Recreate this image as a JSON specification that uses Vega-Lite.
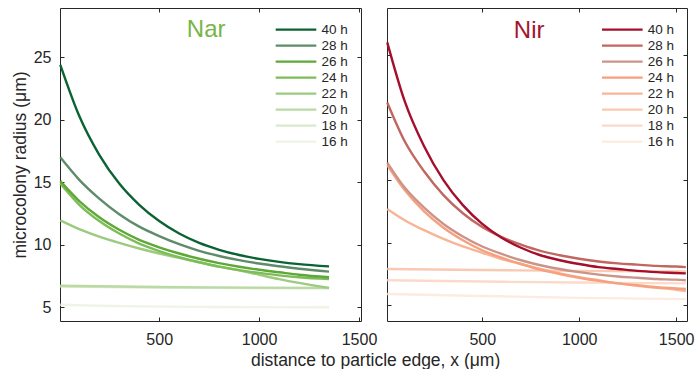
{
  "$schema": "https://vega.github.io/schema/vega-lite/v6.json",
  "padding": {"left": 10, "top": 7, "right": 0, "bottom": 0},
  "bounds": "flush",
  "spacing": 26,
  "config": {
    "font": "Liberation Sans",
    "view": {"stroke": "#262626", "strokeWidth": 1},
    "axis": {"domain": false, "grid": false, "tickSize": -4, "tickColor": "#262626", "tickWidth": 1, "labelFontSize": 16, "labelColor": "#262626", "labelFlush": false, "labelOverlap": false, "titleFontWeight": "normal", "titleFontSize": 17.5, "titleColor": "#262626", "format": "d"},
    "legend": {"orient": "none", "symbolType": "stroke", "symbolSize": 1650, "symbolStrokeWidth": 2.3, "clipHeight": 16, "rowPadding": 0, "padding": 0, "labelFontSize": 13.5, "labelColor": "#262626", "labelOffset": 4}
  },
  "title": {"text": "distance to particle edge, x (μm)", "orient": "bottom", "anchor": "middle", "frame": "bounds", "dx": 23, "fontSize": 17.5, "fontWeight": "normal", "color": "#262626", "offset": 4},
  "datasets": {
    "nar": [
      {"t": "16 h", "x": 5, "r": 5.2}, {"t": "16 h", "x": 200, "r": 5.12}, {"t": "16 h", "x": 400, "r": 5.07}, {"t": "16 h", "x": 700, "r": 5.03}, {"t": "16 h", "x": 1000, "r": 5.01}, {"t": "16 h", "x": 1350, "r": 5.0},
      {"t": "18 h", "x": 5, "r": 6.66}, {"t": "18 h", "x": 500, "r": 6.58}, {"t": "18 h", "x": 1000, "r": 6.53}, {"t": "18 h", "x": 1350, "r": 6.52},
      {"t": "20 h", "x": 5, "r": 6.72}, {"t": "20 h", "x": 500, "r": 6.62}, {"t": "20 h", "x": 1000, "r": 6.57}, {"t": "20 h", "x": 1350, "r": 6.55},
      {"t": "22 h", "x": 5, "r": 11.95}, {"t": "22 h", "x": 100, "r": 11.25}, {"t": "22 h", "x": 200, "r": 10.65}, {"t": "22 h", "x": 300, "r": 10.15}, {"t": "22 h", "x": 400, "r": 9.7}, {"t": "22 h", "x": 500, "r": 9.3}, {"t": "22 h", "x": 600, "r": 8.95}, {"t": "22 h", "x": 700, "r": 8.6}, {"t": "22 h", "x": 800, "r": 8.25}, {"t": "22 h", "x": 900, "r": 7.95}, {"t": "22 h", "x": 1000, "r": 7.6}, {"t": "22 h", "x": 1100, "r": 7.25}, {"t": "22 h", "x": 1200, "r": 6.95}, {"t": "22 h", "x": 1350, "r": 6.55},
      {"t": "24 h", "x": 5, "r": 14.9}, {"t": "24 h", "x": 100, "r": 13.2}, {"t": "24 h", "x": 200, "r": 11.9}, {"t": "24 h", "x": 300, "r": 10.9}, {"t": "24 h", "x": 400, "r": 10.1}, {"t": "24 h", "x": 500, "r": 9.5}, {"t": "24 h", "x": 600, "r": 9.0}, {"t": "24 h", "x": 700, "r": 8.6}, {"t": "24 h", "x": 800, "r": 8.25}, {"t": "24 h", "x": 900, "r": 7.97}, {"t": "24 h", "x": 1000, "r": 7.75}, {"t": "24 h", "x": 1100, "r": 7.55}, {"t": "24 h", "x": 1200, "r": 7.4}, {"t": "24 h", "x": 1350, "r": 7.25},
      {"t": "26 h", "x": 5, "r": 15.1}, {"t": "26 h", "x": 100, "r": 13.5}, {"t": "26 h", "x": 200, "r": 12.2}, {"t": "26 h", "x": 300, "r": 11.2}, {"t": "26 h", "x": 400, "r": 10.4}, {"t": "26 h", "x": 500, "r": 9.8}, {"t": "26 h", "x": 600, "r": 9.3}, {"t": "26 h", "x": 700, "r": 8.88}, {"t": "26 h", "x": 800, "r": 8.53}, {"t": "26 h", "x": 900, "r": 8.24}, {"t": "26 h", "x": 1000, "r": 8.0}, {"t": "26 h", "x": 1100, "r": 7.8}, {"t": "26 h", "x": 1200, "r": 7.6}, {"t": "26 h", "x": 1350, "r": 7.4},
      {"t": "28 h", "x": 5, "r": 17.0}, {"t": "28 h", "x": 100, "r": 15.2}, {"t": "28 h", "x": 200, "r": 13.7}, {"t": "28 h", "x": 300, "r": 12.45}, {"t": "28 h", "x": 400, "r": 11.45}, {"t": "28 h", "x": 500, "r": 10.7}, {"t": "28 h", "x": 600, "r": 10.05}, {"t": "28 h", "x": 700, "r": 9.52}, {"t": "28 h", "x": 800, "r": 9.1}, {"t": "28 h", "x": 900, "r": 8.77}, {"t": "28 h", "x": 1000, "r": 8.5}, {"t": "28 h", "x": 1100, "r": 8.28}, {"t": "28 h", "x": 1200, "r": 8.08}, {"t": "28 h", "x": 1350, "r": 7.85},
      {"t": "40 h", "x": 5, "r": 24.4}, {"t": "40 h", "x": 100, "r": 20.3}, {"t": "40 h", "x": 200, "r": 17.2}, {"t": "40 h", "x": 300, "r": 14.9}, {"t": "40 h", "x": 400, "r": 13.2}, {"t": "40 h", "x": 500, "r": 11.9}, {"t": "40 h", "x": 600, "r": 10.9}, {"t": "40 h", "x": 700, "r": 10.15}, {"t": "40 h", "x": 800, "r": 9.6}, {"t": "40 h", "x": 900, "r": 9.18}, {"t": "40 h", "x": 1000, "r": 8.87}, {"t": "40 h", "x": 1100, "r": 8.63}, {"t": "40 h", "x": 1200, "r": 8.45}, {"t": "40 h", "x": 1350, "r": 8.27}
    ],
    "nir": [
      {"t": "16 h", "x": 10, "r": 5.9}, {"t": "16 h", "x": 500, "r": 5.75}, {"t": "16 h", "x": 1000, "r": 5.6}, {"t": "16 h", "x": 1550, "r": 5.5},
      {"t": "18 h", "x": 10, "r": 7.0}, {"t": "18 h", "x": 500, "r": 6.9}, {"t": "18 h", "x": 1000, "r": 6.82}, {"t": "18 h", "x": 1550, "r": 6.75},
      {"t": "20 h", "x": 10, "r": 7.9}, {"t": "20 h", "x": 500, "r": 7.82}, {"t": "20 h", "x": 1000, "r": 7.75}, {"t": "20 h", "x": 1550, "r": 7.7},
      {"t": "22 h", "x": 10, "r": 12.7}, {"t": "22 h", "x": 100, "r": 11.8}, {"t": "22 h", "x": 200, "r": 11.0}, {"t": "22 h", "x": 300, "r": 10.3}, {"t": "22 h", "x": 400, "r": 9.7}, {"t": "22 h", "x": 500, "r": 9.2}, {"t": "22 h", "x": 600, "r": 8.7}, {"t": "22 h", "x": 700, "r": 8.3}, {"t": "22 h", "x": 800, "r": 7.9}, {"t": "22 h", "x": 900, "r": 7.55}, {"t": "22 h", "x": 1000, "r": 7.25}, {"t": "22 h", "x": 1100, "r": 7.0}, {"t": "22 h", "x": 1200, "r": 6.75}, {"t": "22 h", "x": 1300, "r": 6.55}, {"t": "22 h", "x": 1400, "r": 6.4}, {"t": "22 h", "x": 1500, "r": 6.25}, {"t": "22 h", "x": 1550, "r": 6.15},
      {"t": "24 h", "x": 10, "r": 16.2}, {"t": "24 h", "x": 100, "r": 14.2}, {"t": "24 h", "x": 200, "r": 12.5}, {"t": "24 h", "x": 300, "r": 11.2}, {"t": "24 h", "x": 400, "r": 10.2}, {"t": "24 h", "x": 500, "r": 9.4}, {"t": "24 h", "x": 600, "r": 8.8}, {"t": "24 h", "x": 700, "r": 8.3}, {"t": "24 h", "x": 800, "r": 7.85}, {"t": "24 h", "x": 900, "r": 7.5}, {"t": "24 h", "x": 1000, "r": 7.2}, {"t": "24 h", "x": 1100, "r": 6.95}, {"t": "24 h", "x": 1200, "r": 6.75}, {"t": "24 h", "x": 1300, "r": 6.6}, {"t": "24 h", "x": 1400, "r": 6.45}, {"t": "24 h", "x": 1500, "r": 6.35}, {"t": "24 h", "x": 1550, "r": 6.3},
      {"t": "26 h", "x": 10, "r": 16.4}, {"t": "26 h", "x": 100, "r": 14.4}, {"t": "26 h", "x": 200, "r": 12.8}, {"t": "26 h", "x": 300, "r": 11.5}, {"t": "26 h", "x": 400, "r": 10.5}, {"t": "26 h", "x": 500, "r": 9.7}, {"t": "26 h", "x": 600, "r": 9.1}, {"t": "26 h", "x": 700, "r": 8.6}, {"t": "26 h", "x": 800, "r": 8.2}, {"t": "26 h", "x": 900, "r": 7.9}, {"t": "26 h", "x": 1000, "r": 7.65}, {"t": "26 h", "x": 1100, "r": 7.45}, {"t": "26 h", "x": 1200, "r": 7.3}, {"t": "26 h", "x": 1300, "r": 7.2}, {"t": "26 h", "x": 1400, "r": 7.1}, {"t": "26 h", "x": 1500, "r": 7.05}, {"t": "26 h", "x": 1550, "r": 7.0},
      {"t": "28 h", "x": 10, "r": 21.2}, {"t": "28 h", "x": 100, "r": 18.1}, {"t": "28 h", "x": 200, "r": 15.7}, {"t": "28 h", "x": 300, "r": 13.8}, {"t": "28 h", "x": 400, "r": 12.35}, {"t": "28 h", "x": 500, "r": 11.25}, {"t": "28 h", "x": 600, "r": 10.45}, {"t": "28 h", "x": 700, "r": 9.85}, {"t": "28 h", "x": 800, "r": 9.35}, {"t": "28 h", "x": 900, "r": 9.0}, {"t": "28 h", "x": 1000, "r": 8.72}, {"t": "28 h", "x": 1100, "r": 8.5}, {"t": "28 h", "x": 1200, "r": 8.35}, {"t": "28 h", "x": 1300, "r": 8.25}, {"t": "28 h", "x": 1400, "r": 8.15}, {"t": "28 h", "x": 1500, "r": 8.1}, {"t": "28 h", "x": 1550, "r": 8.05},
      {"t": "40 h", "x": 10, "r": 26.0}, {"t": "40 h", "x": 100, "r": 21.3}, {"t": "40 h", "x": 200, "r": 17.7}, {"t": "40 h", "x": 300, "r": 15.0}, {"t": "40 h", "x": 400, "r": 13.0}, {"t": "40 h", "x": 500, "r": 11.5}, {"t": "40 h", "x": 600, "r": 10.4}, {"t": "40 h", "x": 700, "r": 9.6}, {"t": "40 h", "x": 800, "r": 9.0}, {"t": "40 h", "x": 900, "r": 8.6}, {"t": "40 h", "x": 1000, "r": 8.3}, {"t": "40 h", "x": 1100, "r": 8.05}, {"t": "40 h", "x": 1200, "r": 7.9}, {"t": "40 h", "x": 1300, "r": 7.75}, {"t": "40 h", "x": 1400, "r": 7.65}, {"t": "40 h", "x": 1500, "r": 7.58}, {"t": "40 h", "x": 1550, "r": 7.55}
    ]
  },
  "hconcat": [
    {
      "width": 301,
      "height": 313,
      "data": {"name": "nar"},
      "layer": [
        {
          "mark": {"type": "line", "strokeWidth": 2.4, "interpolate": "monotone"},
          "encoding": {
            "x": {"field": "x", "type": "quantitative", "scale": {"domain": [3.5, 1510], "nice": false, "zero": false}, "axis": {"values": [500, 1000, 1500], "title": null, "labelPadding": 14}},
            "y": {"field": "r", "type": "quantitative", "scale": {"domain": [3.9, 28.95], "nice": false, "zero": false}, "axis": {"values": [5, 10, 15, 20, 25], "title": "microcolony radius (μm)", "labelPadding": 13, "titlePadding": 4}},
            "color": {"field": "t", "type": "nominal", "scale": {"domain": ["40 h", "28 h", "26 h", "24 h", "22 h", "20 h", "18 h", "16 h"], "range": ["#0b6334", "#5e8c6a", "#5ea838", "#7cbd56", "#9ccb80", "#bad9a5", "#d9eacb", "#eef4e6"]}, "legend": {"title": null, "legendX": 214.5, "legendY": 13.7}}
          }
        },
        {
          "mark": {"type": "point", "opacity": 0},
          "encoding": {
            "x": {"field": "x", "type": "quantitative", "axis": {"orient": "top", "labels": false, "values": [500, 1000, 1500], "title": null}},
            "y": {"field": "r", "type": "quantitative", "axis": {"orient": "right", "labels": false, "values": [5, 10, 15, 20, 25], "title": null}}
          }
        },
        {
          "data": {"values": [{"label": "Nar"}]},
          "mark": {"type": "text", "fontSize": 24, "color": "#78b548", "align": "center", "baseline": "middle"},
          "encoding": {
            "x": {"datum": 735, "type": "quantitative", "axis": null},
            "y": {"datum": 27.2, "type": "quantitative", "axis": null},
            "text": {"field": "label"}
          }
        }
      ],
      "resolve": {"axis": {"x": "independent", "y": "independent"}}
    },
    {
      "width": 300,
      "height": 313,
      "data": {"name": "nir"},
      "layer": [
        {
          "mark": {"type": "line", "strokeWidth": 2.4, "interpolate": "monotone"},
          "encoding": {
            "x": {"field": "x", "type": "quantitative", "scale": {"domain": [8.8, 1556], "nice": false, "zero": false}, "axis": {"values": [500, 1000, 1500], "title": null, "labelPadding": 14}},
            "y": {"field": "r", "type": "quantitative", "scale": {"domain": [3.75, 28.74], "nice": false, "zero": false}, "axis": {"values": [5, 10, 15, 20, 25], "title": null, "labels": false}},
            "color": {"field": "t", "type": "nominal", "scale": {"domain": ["40 h", "28 h", "26 h", "24 h", "22 h", "20 h", "18 h", "16 h"], "range": ["#a50f2d", "#c1675f", "#cc9389", "#f6a07e", "#f7b596", "#f9c9b2", "#fbdacb", "#fdeae1"]}, "legend": {"title": null, "legendX": 213.8, "legendY": 13.7}}
          }
        },
        {
          "mark": {"type": "point", "opacity": 0},
          "encoding": {
            "x": {"field": "x", "type": "quantitative", "axis": {"orient": "top", "labels": false, "values": [500, 1000, 1500], "title": null}},
            "y": {"field": "r", "type": "quantitative", "axis": {"orient": "right", "labels": false, "values": [5, 10, 15, 20, 25], "title": null}}
          }
        },
        {
          "data": {"values": [{"label": "Nir"}]},
          "mark": {"type": "text", "fontSize": 24, "color": "#a3152e", "align": "center", "baseline": "middle"},
          "encoding": {
            "x": {"datum": 742, "type": "quantitative", "axis": null},
            "y": {"datum": 26.9, "type": "quantitative", "axis": null},
            "text": {"field": "label"}
          }
        }
      ],
      "resolve": {"axis": {"x": "independent", "y": "independent"}}
    }
  ],
  "resolve": {"scale": {"color": "independent", "x": "independent", "y": "independent"}, "legend": {"color": "independent"}}
}
